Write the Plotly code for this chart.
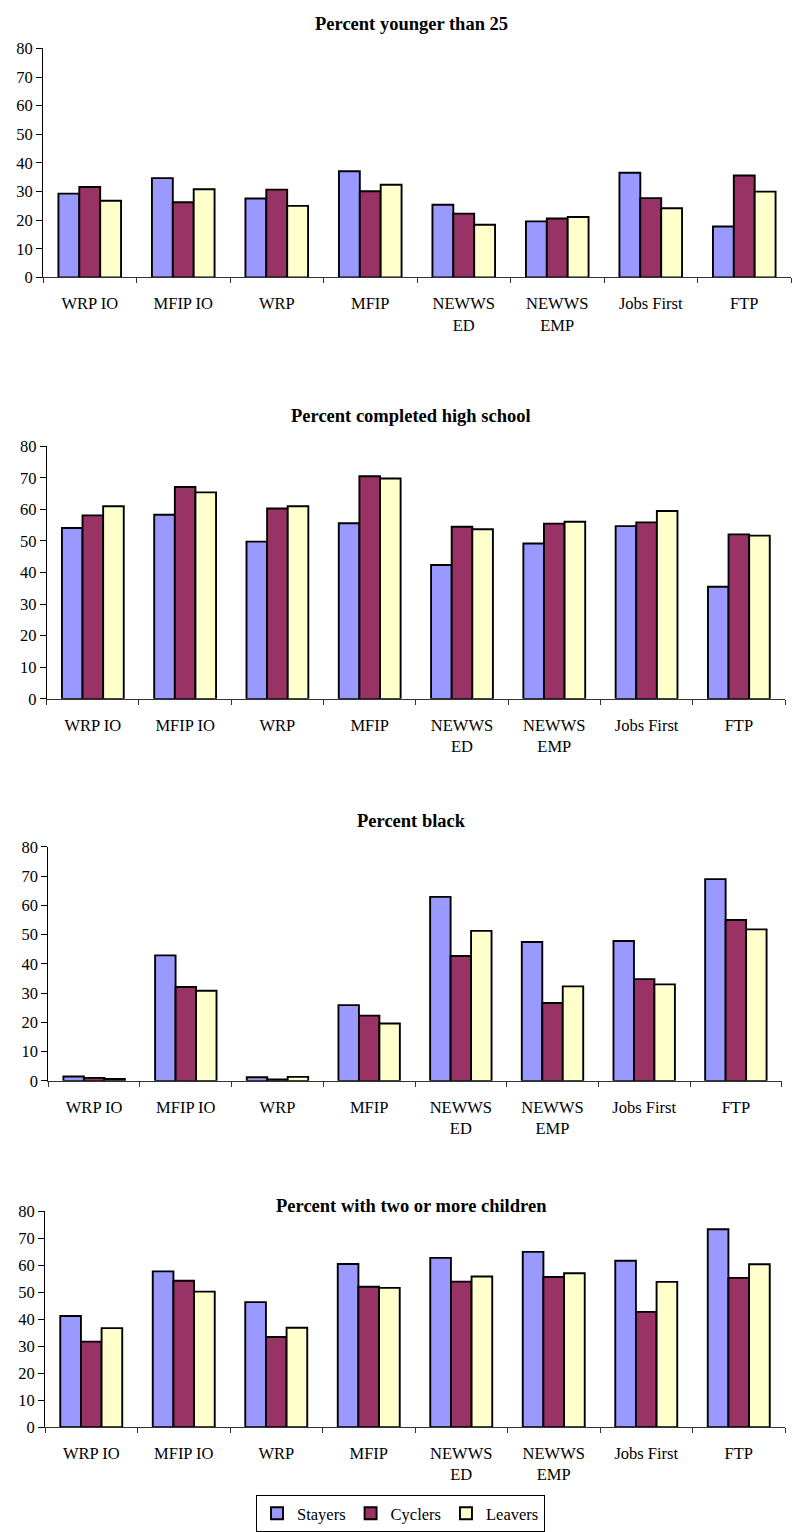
import plotly.graph_objects as go

# Program names along each x axis
categories = ["WRP IO", "MFIP IO", "WRP", "MFIP", "NEWWS<br>ED", "NEWWS<br>EMP", "Jobs First", "FTP"]
series_names = ["Stayers", "Cyclers", "Leavers"]
series_colors = ["#9999FF", "#993366", "#FFFFCC"]

panel_titles = [
    "Percent younger than 25",
    "Percent completed high school",
    "Percent black",
    "Percent with two or more children",
]

# Percent younger than 25
young_stayers = [29.3, 34.7, 27.6, 37.1, 25.4, 19.6, 36.6, 17.8]
young_cyclers = [31.6, 26.3, 30.7, 30.1, 22.3, 20.6, 27.7, 35.6]
young_leavers = [26.8, 30.8, 25.0, 32.4, 18.4, 21.1, 24.2, 30.0]

# Percent completed high school
hs_stayers = [54.1, 58.3, 49.8, 55.6, 42.4, 49.2, 54.7, 35.5]
hs_cyclers = [58.1, 67.1, 60.3, 70.5, 54.5, 55.5, 55.9, 52.1]
hs_leavers = [61.0, 65.4, 61.0, 69.8, 53.7, 56.1, 59.5, 51.7]

# Percent black
black_stayers = [1.5, 42.9, 1.2, 25.9, 62.9, 47.5, 47.8, 69.0]
black_cyclers = [1.0, 32.1, 0.45, 22.3, 42.7, 26.6, 34.8, 55.0]
black_leavers = [0.6, 30.8, 1.35, 19.6, 51.3, 32.3, 33.0, 51.8]

# Percent with two or more children
kids_stayers = [41.2, 57.7, 46.3, 60.4, 62.7, 64.9, 61.6, 73.3]
kids_cyclers = [31.7, 54.2, 33.4, 52.0, 53.9, 55.6, 42.7, 55.3]
kids_leavers = [36.7, 50.2, 36.8, 51.6, 55.8, 57.0, 53.8, 60.3]

panels = [
    [young_stayers, young_cyclers, young_leavers],
    [hs_stayers, hs_cyclers, hs_leavers],
    [black_stayers, black_cyclers, black_leavers],
    [kids_stayers, kids_cyclers, kids_leavers],
]

W, H = 796, 1532
# plot-area boxes in pixels: (left, right, top, bottom)
boxes = [
    (43, 791, 40, 272),
    (46.7, 785, 443, 699),
    (48.3, 781.7, 849, 1086),
    (45, 785, 1218, 1437),
]
title_y = [15, 412, 823, 1213]

FONT = "Liberation Serif, Times New Roman, serif"

fig = go.Figure()
layout = dict(
    width=W, height=H,
    margin=dict(l=0, r=0, t=0, b=0),
    paper_bgcolor="white", plot_bgcolor="white",
    barmode="group", bargap=0.33, bargroupgap=0,
    font=dict(family=FONT, size=16.5, color="black"),
    showlegend=True,
    legend=dict(
        orientation="h", x=256 / W, y=1 - 1506 / H,
        xanchor="left", yanchor="top",
        bordercolor="black", borderwidth=1,
        font=dict(family=FONT, size=16.5),
        itemwidth=30, tracegroupgap=0,
        traceorder="normal",
    ),
    annotations=[],
)

for i, (vals, box, ty, title) in enumerate(zip(panels, boxes, title_y, panel_titles)):
    n = "" if i == 0 else str(i + 1)
    l, r, t, b = box
    for name, color, v in zip(series_names, series_colors, vals):
        fig.add_trace(go.Bar(
            x=categories, y=v, name=name,
            xaxis="x" + n, yaxis="y" + n,
            marker=dict(color=color, line=dict(color="black", width=1.9)),
            legendgroup=name, showlegend=(i == 0),
        ))
    layout["xaxis" + n] = dict(
        domain=[l / W, r / W], anchor="y" + n, type="category",
        showline=True, linecolor="#333333", linewidth=1,
        ticks="outside", ticklen=5, tickcolor="#333333", tickson="boundaries",
        showgrid=False, ticklabelstandoff=11,
        tickfont=dict(family=FONT, size=16.5),
    )
    layout["yaxis" + n] = dict(
        domain=[1 - b / H, 1 - t / H], anchor="x" + n,
        range=[0, 80], dtick=10, tick0=0,
        showline=True, linecolor="black", linewidth=1,
        ticks="outside", ticklen=6, tickcolor="black",
        showgrid=False, zeroline=False,
        tickfont=dict(family=FONT, size=16.5),
    )
    layout["annotations"].append(dict(
        text="<b>" + title + "</b>", x=411 / W, y=1 - ty / H,
        xref="paper", yref="paper", xanchor="center", yanchor="middle",
        showarrow=False, font=dict(family=FONT, size=18.5, color="black"),
    ))

fig.update_layout(**layout)
fig.write_html("out.html")
